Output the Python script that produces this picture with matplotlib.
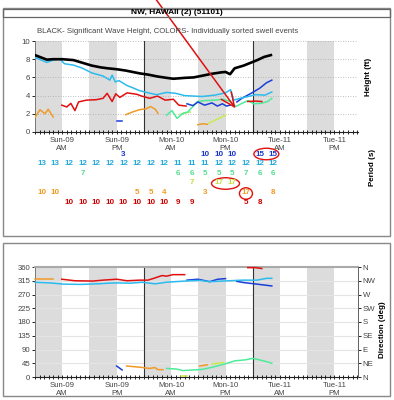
import numpy as np
import matplotlib.pyplot as plt
import matplotlib.transforms as mtransforms
from matplotlib.patches import Rectangle, Ellipse

plt.rcParams['font.family'] = ['Liberation Sans', 'DejaVu Sans']

W, H = 394, 400

# time axis: hours since Sun-09 00:00
tick_hours = [6, 18, 30, 42, 54, 66]
tick_labels = ['Sun-09\nAM', 'Sun-09\nPM', 'Mon-10\nAM', 'Mon-10\nPM', 'Tue-11\nAM', 'Tue-11\nPM']
night_start = [0, 12, 24, 36, 48, 60]
day_lines = [24, 48]

# significant wave height (ft)
black_t = [0, 2.6, 4, 6, 8.5, 10.5, 12.5, 14.5, 16, 18, 20, 21.5, 23, 25, 27, 29, 30.5,
           33, 35, 37, 39, 41, 42, 43, 44, 46, 47.5, 49, 50.5, 52]
black_hs = [8.45, 7.95, 8.0, 8.0, 7.9, 7.6, 7.3, 7.1, 7.0, 6.9, 6.75, 6.6, 6.45, 6.3, 6.1, 5.95,
            5.85, 5.95, 6.0, 6.2, 6.4, 6.55, 6.6, 6.35, 7.0, 7.3, 7.6, 7.9, 8.25, 8.45]

# swell events: list of segments per colour
cyan_t = [[0, 2.6, 4, 5.5, 6.5, 8.5, 10.5, 12.5, 15, 16.5, 17, 17.7, 18.5, 20.3, 21.6, 23, 25,
           26.8, 29, 31, 33, 36.8, 39.6, 42, 43.1, 43.8, 45.6, 47, 48.6, 50.7, 52.2]]
cyan_hs = [[8.2, 7.65, 7.9, 8.0, 7.5, 7.35, 7.0, 6.5, 6.15, 5.7, 6.25, 5.5, 5.65, 5.1, 4.85, 4.55,
            4.3, 4.1, 4.35, 4.25, 4.0, 3.9, 4.05, 4.3, 4.65, 3.5, 3.75, 3.9, 4.1, 4.05, 4.4]]
cyan_dt = [[0, 3.3, 6.2, 10, 13.8, 17.5, 21, 23.6, 26.5, 28.8, 32, 34.2, 36.3, 38.5, 41.4, 45.8,
            48.9, 51.1, 52.2]]
cyan_dir = [[310, 308, 304, 303, 305, 308, 307, 310, 305, 310, 313, 315, 316, 312, 314, 317,
             317, 323, 323]]

red_t = [[5.9, 7, 7.9, 8.8, 9.6, 11.3, 13.5, 15, 15.9, 17, 17.8, 18.7, 20.3, 22.4, 23.5, 25.3,
          27, 28.7, 30.5, 31.7, 33.3], [46.9, 48.5, 50.0]]
red_hs = [[2.95, 2.75, 3.15, 2.35, 3.3, 3.5, 3.55, 3.7, 4.25, 3.35, 4.2, 3.8, 4.3, 4.15, 3.95,
           3.7, 3.95, 3.5, 3.6, 2.95, 2.85], [3.35, 3.4, 3.35]]
red_dt = [[5.9, 8.8, 12.8, 15, 18, 20.3, 23.1, 24.9, 26.2, 28, 29, 30.4, 33], [46.9, 48.5, 50.0]]
red_dir = [[320, 315, 314, 317, 320, 315, 317, 317, 323, 332, 330, 335, 335], [358, 358, 355]]

blue_t = [[18.0, 19.2], [33.5, 34.8, 35.9, 37.4, 39.0, 40.2, 41.3, 42.2, 43.0],
          [44.5, 45.6, 47.8, 49.5, 51.0, 52.2]]
blue_hs = [[1.2, 1.2], [3.1, 2.9, 3.3, 2.95, 3.2, 2.85, 3.1, 2.85, 2.95],
           [3.3, 3.7, 4.3, 4.8, 5.4, 5.7]]
blue_dt = [[18.0, 19.2], [33.5, 35.9, 38.5, 40.3, 42.0], [44.5, 46.0, 48.9, 52.2]]
blue_dir = [[36, 23], [317, 320, 312, 320, 322], [313, 309, 304, 298]]

green_t = [[29, 30.2, 31.3, 32.6, 33.7, 34.8, 35.9, 37.4, 39.6, 41.6, 43, 44.3, 45.6, 47, 48.2,
            49.8, 51.3, 52.2]]
green_hs = [[1.85, 2.35, 1.5, 2.05, 2.2, 2.8, 3.35, 3.45, 3.5, 3.6, 3.35, 2.8, 3.15, 3.45, 3.1,
             3.15, 3.35, 3.7]]
green_dt = [[29, 31.2, 32.6, 34.8, 36.9, 39.1, 41.9, 44.1, 46.3, 48.0, 49.5, 51.1, 52.2]]
green_dir = [[28, 26, 21, 23, 25, 32, 43, 53, 56, 61, 56, 50, 45]]

yellow_t = [[32.0, 33.2, 34.2], [38.2, 39.5, 41.0, 42.0]]
yellow_hs = [[1.95, 2.1, 2.2], [0.95, 1.25, 1.6, 1.85]]
yellow_dt = [[32.2, 33.4], [39.0, 41.5]]
yellow_dir = [[3, 3], [43, 47]]

orange_t = [[0, 1.1, 2.2, 2.9, 4.0], [20.0, 21.5, 23.0, 24.5, 25.5, 26.5, 27.1], [35.9, 37.0, 38.0]]
orange_hs = [[1.6, 2.45, 2.0, 2.5, 1.65], [1.9, 2.2, 2.45, 2.55, 2.8, 2.5, 2.05], [0.8, 0.9, 0.85]]
orange_dt = [[0, 4.0], [20.2, 23.1, 25.3, 26.4, 27.1, 28.2], [36.3, 38.0]]
orange_dir = [[320, 320], [36, 32, 28, 31, 24, 24], [36, 40]]

# peak periods (s) every 3 h, slot k sits at 1.5 + 3k hours
blue_per = {6: 3, 12: 10, 13: 10, 14: 10, 16: 15, 17: 15}
cyan_per = dict(enumerate([13, 13, 12, 12, 12, 12, 12, 12, 12, 12, 11, 11, 11, 12, 12, 12, 12, 12]))
green_per = {3: 7, 10: 6, 11: 6, 12: 5, 13: 5, 14: 5, 15: 7, 16: 6, 17: 6}
yellow_per = {11: 7, 13: 17, 14: 17}
orange_per = {0: 10, 1: 10, 7: 5, 8: 5, 9: 4, 12: 3, 15: 17, 17: 8}
red_per = {2: 10, 3: 10, 4: 10, 5: 10, 6: 10, 7: 10, 8: 10, 9: 10, 10: 9, 11: 9, 15: 5, 16: 8}

dir_ticks = [0, 45, 90, 135, 180, 225, 270, 315, 360]
dir_names = ['N', 'NE', 'E', 'SE', 'S', 'SW', 'W', 'NW', 'N']

C_CYAN = '#2cbbee'
C_BLUE = '#1a3fd8'
C_GREEN = '#4deb9a'
C_YEL = '#c8ea50'
C_ORNG = '#f09a28'
C_RED = '#e01010'


def fx(x):
    return x / W


def fy(y):
    return 1 - y / H


fig = plt.figure(figsize=(W / 100, H / 100), dpi=100)

# frames
fig.patches.append(Rectangle((fx(3), fy(236)), fx(387), 228 / H, transform=fig.transFigure,
                             fill=False, ec='#888888', lw=1.0))
fig.patches.append(Rectangle((fx(3), fy(17)), fx(387), 8.5 / H, transform=fig.transFigure,
                             fill=False, ec='#666666', lw=0.9))
fig.patches.append(Rectangle((fx(3), fy(396)), fx(387), 153 / H, transform=fig.transFigure,
                             fill=False, ec='#888888', lw=1.0))

fig.text(fx(177), fy(12.8), 'NW, HAWAII (2) (51101)', ha='center', va='center',
         fontsize=6, fontweight='bold')
fig.text(fx(168), fy(31.5), 'BLACK- Significant Wave Height, COLORS- Individually sorted swell events',
         ha='center', va='center', fontsize=5.6, color='#444444')

ax1 = fig.add_axes([fx(35), fy(132), 323 / W, 91 / H])
ax2 = fig.add_axes([fx(35), fy(377), 323 / W, 110 / H])

for ax in (ax1, ax2):
    ax.set_xlim(0, 71.2)
    for s in night_start:
        ax.axvspan(s, s + 6, color='#dcdcdc', lw=0, zorder=0)
    for d in day_lines:
        ax.axvline(d, color='#333333', lw=0.8, zorder=1)
    ax.set_xticks(tick_hours)
    ax.set_xticklabels(tick_labels)
    ax.set_xticks(np.arange(0, 72, 1), minor=True)
    ax.tick_params(axis='x', which='both', direction='inout', length=3, width=0.6,
                   labelsize=5.6, labelcolor='#444444', pad=1.5)
    ax.tick_params(axis='x', which='major', length=3.5)
    ax.tick_params(axis='y', labelsize=5.6, labelcolor='#444444', length=2, width=0.6, pad=1.5)
    ax.spines['bottom'].set_color('#222222')
    ax.spines['left'].set_color('#777777')
    ax.spines['left'].set_linewidth(0.7)

# height panel
ax1.set_ylim(0, 10)
ax1.set_yticks([0, 2, 4, 6, 8, 10])
ax1.spines['top'].set_visible(False)
ax1.spines['right'].set_visible(False)
for v in [2, 4, 6, 8, 10]:
    ax1.axhline(v, color='#aaaaaa', lw=0.6, ls=(0, (1, 2)), zorder=0.5)

series = [(orange_t, orange_hs, orange_dt, orange_dir, C_ORNG),
          (yellow_t, yellow_hs, yellow_dt, yellow_dir, C_YEL),
          (green_t, green_hs, green_dt, green_dir, C_GREEN),
          (red_t, red_hs, red_dt, red_dir, C_RED),
          (blue_t, blue_hs, blue_dt, blue_dir, C_BLUE),
          (cyan_t, cyan_hs, cyan_dt, cyan_dir, C_CYAN)]

for t_seg, h_seg, dt_seg, d_seg, col in series:
    for t, h in zip(t_seg, h_seg):
        ax1.plot(t, h, color=col, lw=1.1, zorder=3)
    for t, d in zip(dt_seg, d_seg):
        ax2.plot(t, d, color=col, lw=1.1, zorder=3, clip_on=False)

ax1.plot(black_t, black_hs, color='black', lw=1.9, zorder=4)

# direction panel
ax2.set_ylim(0, 360)
ax2.set_yticks(dir_ticks)
for v in dir_ticks[1:-1]:
    ax2.axhline(v, color='#e4e4e4', lw=0.8, zorder=0.5)
ax2.spines['top'].set_color('#aaaaaa')
ax2.spines['top'].set_linewidth(1.5)
ax2.spines['right'].set_color('#666666')
ax2.spines['right'].set_linewidth(0.7)
axr = ax2.twinx()
axr.set_ylim(0, 360)
axr.set_yticks(dir_ticks)
axr.set_yticklabels(dir_names)
axr.tick_params(axis='y', labelsize=5.6, labelcolor='#444444', length=2, width=0.6, pad=1.5)
for s in ['top', 'left', 'bottom']:
    axr.spines[s].set_visible(False)
axr.spines['right'].set_color('#666666')
axr.spines['right'].set_linewidth(0.7)

# period rows
tr = mtransforms.blended_transform_factory(ax1.transData, fig.transFigure)
rows = [(blue_per, '#1a35cc', 154), (cyan_per, '#22aadd', 164), (green_per, '#55dd90', 173.5),
        (yellow_per, '#c4dc40', 183), (orange_per, '#ee9a20', 193), (red_per, '#cc0000', 203)]
for per, col, ypx in rows:
    for k, v in per.items():
        fig.text(1.5 + 3 * k, fy(ypx), str(v), transform=tr, ha='center', va='center',
                 fontsize=5.8, fontweight='bold', color=col)

# red marks drawn on the chart
for k0, k1, ypx, hw in [(16, 17, 154, 12.5), (13, 14, 183.5, 14), (15, 15, 193.5, 6.5)]:
    xc = 1.5 + 1.5 * (k0 + k1)
    e = Ellipse((xc, fy(ypx)), (2 * hw) / 4.54, 11.5 / H, transform=tr, fill=False,
                ec='#e01010', lw=1.0)
    fig.patches.append(e)

ax1.annotate('', xy=(44.2, 2.6), xycoords='data', xytext=(fx(155), fy(-2)),
             textcoords='figure fraction',
             arrowprops=dict(arrowstyle='->,head_length=1.0,head_width=0.45', color='#e01010',
                             lw=1.1, shrinkA=0, shrinkB=0), annotation_clip=False, zorder=6)

fig.text(fx(368), fy(77), 'Height (ft)', rotation=90, ha='center', va='center',
         fontsize=5.8, fontweight='bold')
fig.text(fx(373), fy(167), 'Period (s)', rotation=90, ha='center', va='center',
         fontsize=5.8, fontweight='bold')
fig.text(fx(383), fy(330), 'Direction (deg)', rotation=90, ha='center', va='center',
         fontsize=5.8, fontweight='bold')

fig.savefig('out.png', dpi=100)
